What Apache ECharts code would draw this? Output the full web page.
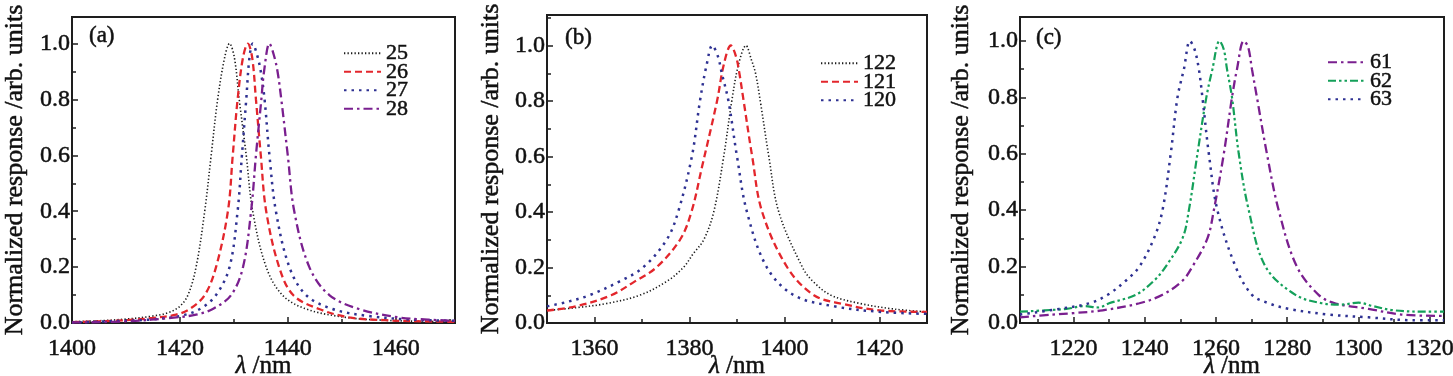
<!DOCTYPE html>
<html>
<head>
<meta charset="utf-8">
<script src="https://cdn.jsdelivr.net/npm/echarts@6/dist/echarts.min.js"></script>
<style>
  html, body { margin: 0; padding: 0; background: #fff; }
  #main { width: 1453px; height: 376px; }
</style>
</head>
<body>
<div id="main"></div>
<script>
// panel (a): wavelength (nm) vs normalized response
const a25 = [[1400,0.005],[1405,0.008],[1410,0.014],[1415,0.025],[1418,0.038],[1420,0.06],[1421.5,0.1],[1423,0.2],[1424.6,0.4],[1425.8,0.6],[1427,0.8],[1428.3,0.95],[1429.2,1.0],[1430.1,0.95],[1431,0.8],[1432.3,0.6],[1433.5,0.4],[1436,0.2],[1439,0.1],[1443.4,0.05],[1450.8,0.02],[1457.5,0.01],[1465,0.006],[1471,0.004]];
const a26 = [[1400,0.003],[1405,0.006],[1410,0.01],[1415,0.018],[1419.3,0.03],[1421.8,0.05],[1424.6,0.1],[1426.7,0.2],[1428.9,0.4],[1429.8,0.6],[1430.7,0.8],[1431.7,0.95],[1432.6,1.0],[1433.4,0.95],[1434.1,0.8],[1435,0.6],[1436,0.4],[1438.4,0.2],[1441,0.1],[1445.8,0.05],[1451.4,0.02],[1458,0.01],[1465,0.006],[1471,0.004]];
const a27 = [[1400,0.002],[1410,0.008],[1415,0.013],[1420,0.025],[1423.7,0.05],[1426.7,0.1],[1429.2,0.2],[1430.7,0.4],[1431.5,0.6],[1432.3,0.8],[1432.9,0.95],[1433.5,1.0],[1434.3,0.96],[1435,0.9],[1435.7,0.8],[1436.6,0.6],[1437.8,0.4],[1440.3,0.2],[1443.4,0.1],[1448.3,0.05],[1455,0.025],[1463,0.012],[1471,0.008]];
const a28 = [[1400,0.002],[1410,0.006],[1419.3,0.02],[1423,0.03],[1426.1,0.05],[1429.5,0.1],[1431.7,0.2],[1433.2,0.4],[1434.1,0.6],[1435.1,0.8],[1435.6,0.9],[1436.6,1.0],[1437.4,0.96],[1438.1,0.9],[1438.8,0.8],[1440,0.6],[1441.2,0.4],[1444,0.2],[1447.7,0.1],[1453.2,0.05],[1460.6,0.02],[1466,0.012],[1471,0.008]];

// panel (b)
const b122 = [[1350,0.045],[1356,0.055],[1362.5,0.07],[1369.5,0.1],[1375.2,0.15],[1378.7,0.2],[1380.8,0.25],[1383,0.3],[1385.1,0.4],[1387.2,0.6],[1388.9,0.8],[1390.3,0.93],[1391.9,1.0],[1393,0.95],[1393.9,0.9],[1394.9,0.8],[1396.7,0.6],[1398.8,0.4],[1403.8,0.2],[1406,0.15],[1409.8,0.1],[1416,0.07],[1423.2,0.05],[1430,0.04]];
const b121 = [[1350,0.045],[1356,0.06],[1363.5,0.1],[1368.5,0.15],[1373,0.2],[1378,0.3],[1380.4,0.4],[1382.6,0.56],[1385.8,0.8],[1387.2,0.93],[1388.7,1.0],[1389.8,0.96],[1390.5,0.9],[1391.4,0.8],[1393.2,0.6],[1395.3,0.4],[1400.6,0.2],[1406.2,0.1],[1411.9,0.07],[1420.3,0.045],[1430,0.04]];
const b120 = [[1350,0.06],[1354,0.075],[1358.9,0.1],[1365.3,0.15],[1370.2,0.2],[1375.2,0.3],[1377.6,0.4],[1380.5,0.6],[1382.2,0.8],[1383.6,0.93],[1384.8,1.0],[1386,0.96],[1386.8,0.9],[1388.2,0.8],[1390,0.6],[1392.1,0.4],[1396.3,0.2],[1402,0.1],[1410.5,0.06],[1420.3,0.04],[1430,0.033]];

// panel (c)
const c61 = [[1205,0.02],[1214.2,0.03],[1220,0.035],[1228.2,0.045],[1238.5,0.07],[1245,0.1],[1250.6,0.15],[1253.4,0.2],[1257.6,0.3],[1259.4,0.4],[1262.2,0.6],[1264.5,0.8],[1265.9,0.9],[1267.8,1.0],[1269,0.98],[1270.1,0.9],[1271.5,0.8],[1274.3,0.6],[1277.6,0.4],[1282.7,0.2],[1288.8,0.1],[1293.4,0.07],[1302.8,0.05],[1312,0.03],[1324,0.025]];
const c62 = [[1205,0.04],[1212,0.045],[1218,0.05],[1223,0.06],[1227,0.055],[1230,0.07],[1237.5,0.1],[1242.6,0.15],[1245.9,0.2],[1250.6,0.3],[1252.4,0.4],[1254.8,0.6],[1257.3,0.8],[1259,0.9],[1261,1.0],[1262.2,0.97],[1263.1,0.9],[1264.5,0.8],[1266.4,0.6],[1269.2,0.4],[1273.9,0.2],[1282.3,0.1],[1289.7,0.07],[1295,0.065],[1300,0.072],[1304,0.06],[1310,0.045],[1319.5,0.04],[1324,0.04]];
const c63 = [[1205,0.03],[1216,0.05],[1224.5,0.07],[1229.6,0.1],[1234.7,0.15],[1238.5,0.2],[1242.6,0.3],[1245,0.4],[1247.3,0.6],[1249.2,0.8],[1251,0.9],[1252.7,1.0],[1254,0.97],[1255.2,0.9],[1256.2,0.8],[1258,0.6],[1260.4,0.4],[1265.5,0.2],[1270.1,0.1],[1274.8,0.07],[1280.4,0.05],[1291.6,0.03],[1302.8,0.02],[1314.9,0.01],[1324,0.01]];

const panelLabels = ['(a)', '(b)', '(c)'];
const xRanges = [[1400, 1471], [1350, 1430], [1205, 1324]];
const yMax = [1.095, 1.11, 1.085];

const FONT = 'Liberation Serif';
const AXIS = '#1e1e1e';
const TXT = '#111';
// thin outline to thicken the serif glyphs a little
const heavy = { textBorderColor: TXT, textBorderWidth: 0.5 };

const styles = {
  dotBlack: { color: '#1a1a1a', width: 1.6, type: [1.3, 2.2] },
  dashRed: { color: '#e3262c', width: 2.3, type: [7, 4] },
  dotBlue: { color: '#2e3192', width: 2.5, type: [2.5, 5] },
  dashDotPurple: { color: '#7a1f8f', width: 2.3, type: [9, 4, 2.5, 4] },
  dashDot2Green: { color: '#14a05a', width: 2.2, type: [8, 3, 2.5, 3, 2.5, 3] }
};

const chart = echarts.init(document.getElementById('main'));

const grids = [
  { left: 72, width: 383, top: 17, height: 306 },
  { left: 547, width: 380, top: 15, height: 308 },
  { left: 1020, width: 424, top: 17, height: 306 }
];

function mkLine(name, idx, data, st) {
  return {
    name: name,
    type: 'line',
    xAxisIndex: idx,
    yAxisIndex: idx,
    data: data,
    smooth: 0.35,
    symbol: 'none',
    lineStyle: { color: st.color, width: st.width, type: st.type },
    itemStyle: { color: st.color },
    z: 3
  };
}

const xAxes = grids.map((g, i) => ({
  gridIndex: i,
  type: 'value',
  min: xRanges[i][0],
  max: xRanges[i][1],
  interval: i === 0 ? 20 : undefined,
  name: '{i|λ} /nm',
  nameLocation: 'middle',
  nameGap: 31,
  nameMoveOverlap: false,
  nameTextStyle: Object.assign({
    fontFamily: FONT, fontSize: 25, color: TXT,
    rich: { i: Object.assign({ fontFamily: FONT, fontStyle: 'italic', fontSize: 25, color: TXT }, heavy) }
  }, heavy),
  axisLine: { show: true, onZero: false, lineStyle: { color: AXIS, width: 2 } },
  axisTick: { show: true, inside: true, length: 6, lineStyle: { color: AXIS, width: 1.5 } },
  minorTick: { show: true, splitNumber: 2, length: 4, lineStyle: { color: AXIS, width: 1.5 } },
  splitLine: { show: false },
  axisLabel: Object.assign({
    fontFamily: FONT, fontSize: 24, color: TXT, margin: 14,
    showMinLabel: i === 0, showMaxLabel: false,
    formatter: v => String(Math.round(v))
  }, heavy)
}));

const yAxes = grids.map((g, i) => ({
  gridIndex: i,
  type: 'value',
  min: 0,
  max: yMax[i],
  interval: 0.2,
  name: 'Normalized response /arb. units',
  nameLocation: 'middle',
  nameGap: [44, 43, 46][i],
  nameMoveOverlap: false,
  nameTextStyle: Object.assign({ fontFamily: FONT, fontSize: 26, color: TXT }, heavy),
  axisLine: { show: true, onZero: false, lineStyle: { color: AXIS, width: 2 } },
  axisTick: { show: true, inside: true, length: 6, lineStyle: { color: AXIS, width: 1.5 } },
  minorTick: { show: true, splitNumber: 2, length: 4, lineStyle: { color: AXIS, width: 1.5 } },
  splitLine: { show: false },
  axisLabel: Object.assign({
    fontFamily: FONT, fontSize: 24, color: TXT, margin: 2,
    showMaxLabel: false,
    formatter: v => v.toFixed(1)
  }, heavy)
}));

const legendBase = {
  orient: 'vertical',
  itemWidth: 37,
  itemHeight: 10,
  itemGap: -4,
  itemStyle: { opacity: 0 },
  textStyle: Object.assign({ fontFamily: FONT, fontSize: 22, color: TXT }, heavy),
  padding: 0
};

const option = {
  backgroundColor: '#fff',
  animation: false,
  title: panelLabels.map((t, i) => ({
    text: t,
    left: [89, 565, 1036][i],
    top: [24, 26, 26][i],
    padding: 0,
    textStyle: Object.assign({ fontFamily: FONT, fontSize: 23, fontWeight: 'normal', color: TXT }, heavy)
  })),
  grid: grids.map(g => Object.assign({
    show: true, borderColor: AXIS, borderWidth: 2, backgroundColor: 'transparent',
    outerBoundsMode: 'none', containLabel: false
  }, g)),
  xAxis: xAxes,
  yAxis: yAxes,
  legend: [
    Object.assign({}, legendBase, { left: 343, top: 42, data: ['25', '26', '27', '28'] }),
    Object.assign({}, legendBase, { left: 820, top: 52, data: ['122', '121', '120'] }),
    Object.assign({}, legendBase, { left: 1327, top: 51, data: ['61', '62', '63'] })
  ],
  series: [
    mkLine('25', 0, a25, styles.dotBlack),
    mkLine('26', 0, a26, styles.dashRed),
    mkLine('27', 0, a27, styles.dotBlue),
    mkLine('28', 0, a28, styles.dashDotPurple),
    mkLine('122', 1, b122, styles.dotBlack),
    mkLine('121', 1, b121, styles.dashRed),
    mkLine('120', 1, b120, styles.dotBlue),
    mkLine('61', 2, c61, styles.dashDotPurple),
    mkLine('62', 2, c62, styles.dashDot2Green),
    mkLine('63', 2, c63, styles.dotBlue)
  ]
};

chart.setOption(option);
</script>
</body>
</html>
